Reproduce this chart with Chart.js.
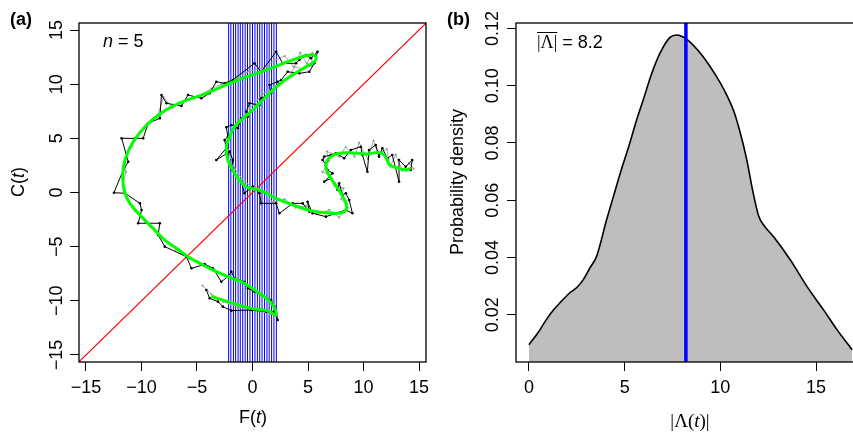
<!DOCTYPE html>
<html>
<head>
<meta charset="utf-8">
<script src="https://cdn.jsdelivr.net/npm/chart.js@4.4.0/dist/chart.umd.min.js"></script>
<style>
html, body { margin: 0; padding: 0; background: #fff; overflow: hidden; width: 853px; height: 435px; }
#wrapA { position: absolute; left: 0; top: 0; width: 430px; height: 435px; }
#wrapB { position: absolute; left: 430px; top: 0; width: 450px; height: 435px; }
</style>
</head>
<body>
<div id="wrapA"><canvas id="chartA" width="430" height="435"></canvas></div>
<div id="wrapB"><canvas id="chartB" width="450" height="435"></canvas></div>
<script>
// ---------------------------------------------------------------
// (a) phase trajectory F(t) / C(t)
// ---------------------------------------------------------------
// smoothed trajectory (green)
const greenF = [-3.7, -2.22, -0.12, 1.37, 2.13, 1.82, 1.23, 0.18, -0.72, -2.22, -3.5, -4.46, -5.81, -6.85, -7.9, -8.95, -10.14, -11.04, -11.49, -11.7, -11.49, -10.75, -9.54, -8.05, -6.26, -4.16, -1.9, 1.23, 3.62, 5.12, 5.72, 5.57, 4.82, 3.62, 2.72, 1.82, 0.92, 0.03, -0.87, -1.62, -2.06, -2.36, -2.22, -1.62, -0.57, 0.63, 2.13, 3.62, 5.41, 7.21, 8.26, 8.47, 7.96, 7.2, 6.62, 6.76, 7.51, 8.71, 10.21, 11.55, 12.06, 12.36, 13.2, 13.8, 14.25];
const greenC = [-9.6, -10.08, -10.7, -10.91, -11.3, -10.39, -9.77, -9.0, -8.39, -7.77, -7.2, -6.69, -5.93, -5.15, -4.39, -3.31, -2.08, -1.0, -0.07, 1.4, 3.0, 4.69, 6.23, 7.46, 8.39, 9.16, 10.15, 11.31, 12.24, 12.7, 12.54, 12.08, 11.62, 10.85, 10.23, 9.46, 8.54, 7.62, 6.85, 6.08, 5.15, 4.23, 3.0, 1.77, 0.54, 0.23, -0.54, -1.15, -1.71, -1.92, -1.77, -1.15, -0.07, 1.1, 2.23, 3.0, 3.55, 3.68, 3.55, 3.68, 3.16, 2.54, 2.23, 2.08, 2.23];

// observed trajectory (black)
const obsF = [-4.16, -3.86, -3.11, -2.67, -1.91, -0.12, 1.23, 1.97, 2.27, 1.97, 1.68, 0.18, -0.42, -0.72, -1.62, -1.91, -2.22, -2.81, -3.56, -4.31, -4.46, -5.5, -5.95, -7.9, -8.5, -8.35, -10.3, -9.99, -10.14, -11.49, -12.48, -11.64, -11.19, -11.79, -10.59, -9.85, -9.4, -8.35, -8.2, -7.75, -6.4, -5.81, -4.6, -3.86, -3.26, -2.51, -1.77, 0.18, 0.78, 2.13, 2.72, 3.92, 4.22, 4.82, 5.27, 5.86, 5.57, 5.12, 4.22, 3.17, 2.58, 2.27, 1.53, 1.68, 1.37, 0.78, 0.63, -0.27, -0.57, -0.42, -1.01, -1.32, -1.91, -2.36, -2.22, -2.51, -2.36, -3.26, -2.06, -1.77, -1.91, -1.01, -0.72, 0.03, 0.63, 0.78, 2.13, 2.42, 3.62, 4.52, 5.12, 4.96, 5.41, 6.62, 7.51, 8.41, 9.0, 8.71, 8.41, 8.11, 7.81, 7.66, 7.36, 7.06, 6.46, 7.21, 6.76, 6.62, 6.31, 6.46, 7.06, 7.51, 8.26, 8.86, 9.76, 9.9, 10.35, 10.5, 11.1, 11.4, 11.7, 12.15, 12.59, 13.2, 13.2, 13.8, 14.39, 14.25];
const obsC = [-9.0, -9.77, -10.08, -10.54, -10.91, -10.85, -11.0, -11.0, -11.77, -10.54, -9.93, -9.16, -8.85, -8.24, -7.92, -7.31, -7.77, -8.24, -7.0, -6.6, -6.69, -7.0, -5.93, -5.0, -3.92, -2.84, -2.84, -1.62, -1.0, -0.07, -0.02, 2.08, 2.84, 5.0, 5.0, 5.0, 6.39, 6.85, 9.0, 8.24, 7.99, 9.0, 8.7, 9.16, 10.23, 10.08, 10.39, 11.93, 11.15, 13.0, 11.93, 11.93, 12.24, 12.7, 12.39, 13.0, 11.93, 11.15, 11.0, 11.15, 10.39, 10.23, 9.93, 9.16, 9.0, 8.7, 8.08, 8.24, 7.46, 7.0, 6.85, 5.93, 6.23, 6.02, 5.15, 4.85, 4.08, 3.0, 3.77, 3.0, 2.08, 1.0, -0.07, 0.54, -0.07, -1.0, -1.0, -1.92, -1.0, -1.0, -1.77, -0.85, -1.92, -2.23, -1.92, -1.62, -1.92, -0.69, -0.07, -0.23, 0.85, 0.23, 0.85, 1.31, 1.0, 1.77, 2.08, 2.54, 3.0, 3.31, 3.46, 3.62, 3.16, 3.92, 4.23, 3.46, 1.92, 3.92, 4.39, 3.31, 4.08, 3.16, 3.46, 1.0, 3.0, 2.38, 3.0, 2.08];

// second observed trajectory (grey)
const obs2F = [-4.5, -3.7, -2.6, -1.2, 0.3, 1.6, 2.2, 1.9, 1.0, 0.0, -1.3, -2.4, -3.4, -4.9, -5.7, -6.9, -7.6, -8.8, -9.7, -10.6, -11.3, -11.7, -11.4, -11.5, -10.9, -10.3, -9.5, -8.6, -8.0, -7.2, -6.0, -4.9, -3.7, -2.8, -1.4, -0.3, 1.0, 2.0, 2.9, 3.7, 4.3, 4.9, 5.4, 5.3, 4.6, 3.8, 3.3, 2.3, 1.6, 0.9, 0.1, -0.5, -1.1, -1.7, -2.4, -2.0, -1.6, -0.9, -0.2, 0.9, 1.8, 2.9, 3.9, 4.8, 5.8, 6.9, 7.8, 8.6, 8.0, 8.2, 7.4, 7.0, 6.3, 6.9, 6.7, 7.8, 8.4, 9.2, 9.6, 10.4, 10.9, 11.3, 12.1, 12.4, 12.9, 13.5, 14.1, 14.5];
const obs2C = [-8.6, -9.4, -10.1, -10.6, -10.9, -11.2, -11.4, -10.2, -9.5, -8.9, -8.0, -7.7, -7.2, -6.4, -6.1, -5.3, -4.6, -3.5, -2.7, -1.7, -0.6, 0.6, 1.9, 3.1, 4.2, 5.2, 6.1, 7.0, 8.8, 7.8, 8.6, 8.9, 9.6, 10.0, 10.6, 11.2, 11.5, 12.2, 12.6, 11.6, 12.9, 11.9, 12.9, 11.7, 11.4, 11.6, 10.7, 10.0, 9.4, 9.1, 8.1, 7.6, 6.5, 5.8, 4.6, 3.4, 2.2, 1.2, 0.6, 0.2, -0.9, -0.6, -1.4, -1.2, -2.0, -1.6, -2.3, -1.4, -0.6, 0.4, 0.6, 1.6, 1.9, 2.9, 3.8, 3.3, 4.2, 3.3, 4.6, 3.1, 4.8, 3.6, 4.0, 2.4, 3.5, 2.0, 2.7, 2.2];

// vertical window lines (blue)
const bandF = [-2.15, -1.95, -1.72, -1.52, -1.3, -1.1, -0.88, -0.66, -0.45, -0.23, 0, 0.22, 0.44, 0.65, 0.86, 1.08, 1.3, 1.5, 1.72, 1.93, 2.15];

const ticksA = [-15, -10, -5, 0, 5, 10, 15];
const nLabel = 5;

// ---------------------------------------------------------------
// (b) density of |Lambda(t)|
// ---------------------------------------------------------------
const densX = [0, 0.5, 0.91, 1.3, 1.61, 2.13, 2.5, 2.83, 3.2, 3.53, 4.05, 4.4, 4.75, 5.27, 5.6, 5.97, 6.4, 6.84, 7.37, 7.72, 8.0, 8.24, 9.0, 9.81, 10.2, 10.68, 11.0, 11.38, 11.7, 12.0, 12.3, 12.77, 13.65, 14.52, 15.39, 16.09, 16.88];
const densY = [0.0095, 0.0140, 0.0183, 0.0218, 0.0241, 0.0276, 0.0295, 0.0322, 0.0365, 0.0403, 0.0530, 0.0610, 0.0690, 0.0800, 0.0875, 0.0950, 0.1040, 0.1113, 0.1169, 0.1177, 0.1172, 0.1163, 0.1110, 0.1031, 0.0985, 0.0915, 0.0845, 0.0741, 0.0630, 0.0545, 0.0510, 0.0473, 0.0392, 0.0299, 0.0217, 0.0148, 0.0078];
const meanAbs = 8.2;
const xTicksB = [0, 5, 10, 15];
const yTicksB = [0.02, 0.04, 0.06, 0.08, 0.10, 0.12];

// ---------------------------------------------------------------
const SANS = '"Liberation Sans", Arial, sans-serif';
const SERIF = '"Liberation Serif", "Times New Roman", serif';
const FS = 18;

Chart.defaults.font.family = SANS;
Chart.defaults.color = '#000';

let zip = (xs, ys) => xs.map((x, i) => ({x: x, y: ys[i]}));
let minus = v => String(v).replace('-', '\u2212');

// text made of pieces with different fonts
function richText(ctx, parts, x, y, align, angle) {
	ctx.save();
	ctx.translate(x, y);
	if (angle) ctx.rotate(angle);
	ctx.textBaseline = 'middle';
	ctx.textAlign = 'left';
	ctx.fillStyle = '#000';
	let w = 0;
	parts.forEach(p => { ctx.font = p[1]; w += ctx.measureText(p[0]).width; });
	let cx = align === 'center' ? -w / 2 : 0;
	parts.forEach(p => { ctx.font = p[1]; ctx.fillText(p[0], cx, 0); cx += ctx.measureText(p[0]).width; });
	ctx.restore();
	return w;
}

// tick labels, R style (y labels rotated)
function drawTickLabels(chart, yPos, xPos, fmtX, fmtY) {
	let sx = chart.scales.x, sy = chart.scales.y, ctx = chart.ctx, font = FS + 'px ' + SANS;
	sx.ticks.forEach(t => {
		richText(ctx, [[fmtX(t.value), font]], sx.getPixelForValue(t.value), yPos, 'center');
	});
	sy.ticks.forEach(t => {
		richText(ctx, [[fmtY(t.value), font]], xPos, sy.getPixelForValue(t.value), 'center', -Math.PI / 2);
	});
}

function drawFrame(chart) {
	let a = chart.chartArea, ctx = chart.ctx;
	ctx.save();
	ctx.strokeStyle = '#000';
	ctx.lineWidth = 1.3;
	ctx.strokeRect(a.left, a.top, a.right - a.left, a.bottom - a.top);
	ctx.restore();
}

function axisOpts(min, max, ticks) {
	return {
		type: 'linear', min: min, max: max,
		afterBuildTicks: s => { s.ticks = ticks.map(v => ({value: v})); },
		grid: { display: true, drawOnChartArea: false, drawTicks: true, tickLength: 9, tickColor: '#000', tickWidth: 1 },
		border: { display: false },
		ticks: { display: false, autoSkip: false }
	};
}

const commonPlugins = { legend: { display: false }, tooltip: { enabled: false } };

// panel (a)
let optsA = {
	responsive: false, animation: false, devicePixelRatio: 1,
	layout: { padding: { top: 23, right: 3, left: 0, bottom: 0 } },
	plugins: commonPlugins,
	scales: {
		x: Object.assign(axisOpts(-15.63, 15.63, ticksA), { afterFit: s => { s.height = 73; } }),
		y: Object.assign(axisOpts(-15.65, 15.65, ticksA), { afterFit: s => { s.width = 79; } })
	}
};

new Chart(document.getElementById('chartA'), {
	type: 'scatter',
	data: {
		datasets: [{
			label: 'smooth', data: zip(greenF, greenC), showLine: true, tension: 0.4,
			borderColor: '#00FF00', borderWidth: 3, pointRadius: 0, order: 1
		}, {
			label: 'obs', data: zip(obsF, obsC), showLine: true, tension: 0,
			borderColor: '#000000', borderWidth: 1, pointRadius: 1.3,
			pointBackgroundColor: '#000000', pointBorderWidth: 0, order: 2
		}, {
			label: 'obs2', data: zip(obs2F, obs2C), showLine: true, tension: 0,
			borderColor: '#A8A8A8', borderWidth: 1, pointRadius: 1.1,
			pointBackgroundColor: '#999999', pointBorderWidth: 0, order: 3
		}, {
			label: 'diag', data: [{x: -20, y: -20}, {x: 20, y: 20}], showLine: true,
			borderColor: 'rgb(255, 0, 0)', backgroundColor: 'rgb(255, 0, 0)',
			borderWidth: 1.2, pointRadius: 0, order: 4
		}, {
			label: 'band', showLine: true, spanGaps: false,
			data: bandF.flatMap(v => [{x: v, y: -20}, {x: v, y: 20}, {x: v, y: null}]),
			borderColor: '#0000FF', borderWidth: 1, pointRadius: 0, order: 5
		}]
	},
	options: optsA,
	plugins: [{
		id: 'decorA',
		afterDraw: function(chart) {
			let ctx = chart.ctx;
			drawFrame(chart);
			drawTickLabels(chart, 388, 57, minus, minus);
			richText(ctx, [['F(', FS + 'px ' + SANS], ['t', 'italic ' + FS + 'px ' + SANS], [')', FS + 'px ' + SANS]], 253, 418, 'center');
			richText(ctx, [['C(', FS + 'px ' + SANS], ['t', 'italic ' + FS + 'px ' + SANS], [')', FS + 'px ' + SANS]], 19, 182, 'center', -Math.PI / 2);
			richText(ctx, [['(a)', 'bold ' + FS + 'px ' + SANS]], 10, 20, 'left');
			richText(ctx, [['n', 'italic ' + FS + 'px ' + SANS], [' = ' + nLabel, FS + 'px ' + SANS]], 103, 42, 'left');
		}
	}]
});

// panel (b)
let optsB = {
	responsive: false, animation: false, devicePixelRatio: 1,
	layout: { padding: { top: 23, right: 15, left: 0, bottom: 0 } },
	plugins: commonPlugins,
	scales: {
		x: Object.assign(axisOpts(-0.675, 17.555, xTicksB), { afterFit: s => { s.height = 73; } }),
		y: Object.assign(axisOpts(0.0035, 0.1219, yTicksB), { afterFit: s => { s.width = 86; } })
	}
};

new Chart(document.getElementById('chartB'), {
	type: 'scatter',
	data: {
		datasets: [{
			label: 'mean', data: [{x: meanAbs, y: -1}, {x: meanAbs, y: 1}], showLine: true,
			borderColor: '#0000FF', borderWidth: 3.5, pointRadius: 0, order: 1
		}, {
			label: 'density', data: zip(densX, densY), showLine: true,
			cubicInterpolationMode: 'monotone',
			borderColor: '#000000', borderWidth: 1.6, pointRadius: 0,
			fill: 'start', backgroundColor: '#BEBEBE', order: 2
		}]
	},
	options: optsB,
	plugins: [{
		id: 'decorB',
		afterDraw: function(chart) {
			let ctx = chart.ctx;
			drawFrame(chart);
			drawTickLabels(chart, 388, 63, v => String(v), v => v.toFixed(2));
			richText(ctx, [['Probability density', FS + 'px ' + SANS]], 28, 182, 'center', -Math.PI / 2);
			richText(ctx, [['|\u039B(', FS + 1 + 'px ' + SERIF], ['t', 'italic ' + (FS + 1) + 'px ' + SERIF], [')|', FS + 1 + 'px ' + SERIF]], 260, 422, 'center');
			richText(ctx, [['(b)', 'bold ' + FS + 'px ' + SANS]], 17, 20, 'left');
			// mean label with overbar
			let w = richText(ctx, [['|\u039B|', FS + 'px ' + SERIF]], 107, 43, 'left');
			richText(ctx, [[' = ' + meanAbs, FS + 'px ' + SANS]], 107 + w, 43, 'left');
			ctx.save();
			ctx.strokeStyle = '#000';
			ctx.lineWidth = 1;
			ctx.beginPath();
			ctx.moveTo(107, 32.5);
			ctx.lineTo(107 + w, 32.5);
			ctx.stroke();
			ctx.restore();
		}
	}]
});
</script>
</body>
</html>
